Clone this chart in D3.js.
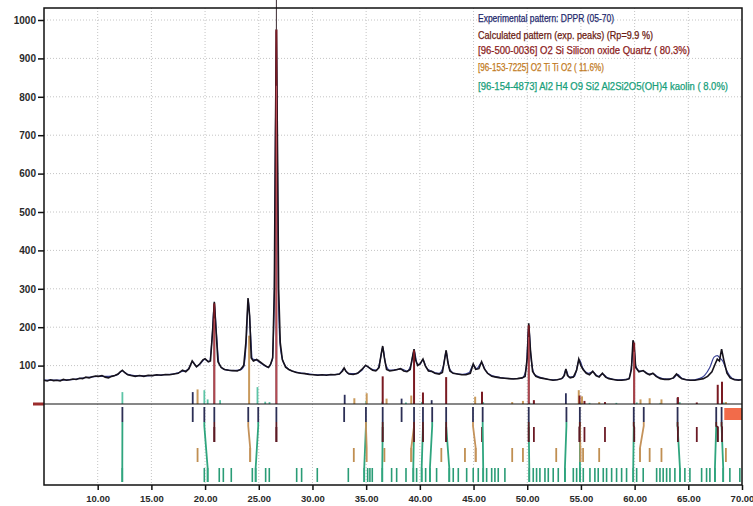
<!DOCTYPE html>
<html>
<head>
<meta charset="utf-8">
<script src="https://cdn.jsdelivr.net/npm/d3@7"></script>
<style>
  body { margin: 0; background: #fff; }
  svg { display: block; font-family: Arial, "Liberation Sans", sans-serif; }
</style>
</head>
<body>
<svg id="chart" width="753" height="506"></svg>
<script>
// measured pattern (2theta, counts) - noisy trace
const expPattern = [
  [5.0,62],[5.3,60],[5.6,63],[5.9,61],[6.2,62],[6.5,60],[6.8,64],[7.1,62],[7.4,63],[7.7,65],[8.0,64],[8.3,67],
  [8.6,66],[8.9,70],[9.2,68],[9.5,71],[9.8,73],[10.1,72],[10.4,74],[10.7,70],[11.0,68],[11.3,72],[11.6,74],
  [11.9,78],[12.1,84],[12.3,88],[12.5,82],[12.8,76],[13.1,74],[13.5,72],[13.9,74],[14.3,72],[14.7,75],[15.1,74],
  [15.5,76],[15.9,75],[16.3,77],[16.7,76],[17.1,78],[17.5,80],[17.9,88],[18.2,84],[18.5,92],[18.8,112],[19.0,104],
  [19.2,97],[19.5,104],[19.8,115],[20.0,118],[20.3,110],[20.5,112],[20.7,190],[20.86,266],[21.0,200],[21.2,110],
  [21.5,95],[21.8,90],[22.2,88],[22.6,87],[23.0,86],[23.3,90],[23.6,100],[23.8,160],[24.0,276],[24.15,230],
  [24.3,120],[24.5,112],[24.8,116],[25.1,110],[25.4,104],[25.7,98],[25.9,95],[26.1,104],[26.3,120],[26.45,300],
  [26.55,700],[26.64,975],[26.75,650],[26.85,300],[27.0,160],[27.2,115],[27.5,96],[27.8,90],[28.1,86],[28.5,82],
  [28.9,80],[29.3,79],[29.7,77],[30.1,76],[30.5,75],[30.9,76],[31.3,75],[31.7,77],[32.1,76],[32.5,78],[32.8,86],
  [32.95,94],[33.1,86],[33.4,78],[33.8,77],[34.2,80],[34.6,90],[34.95,101],[35.3,94],[35.6,88],[35.9,86],[36.2,95],
  [36.4,130],[36.54,151],[36.7,120],[36.9,90],[37.2,86],[37.6,88],[37.9,90],[38.2,92],[38.5,86],[38.8,84],[39.1,90],
  [39.3,120],[39.46,143],[39.6,115],[39.8,100],[40.0,104],[40.29,117],[40.5,100],[40.8,86],[41.1,85],[41.4,80],
  [41.8,78],[42.1,82],[42.3,115],[42.45,140],[42.6,110],[42.8,86],[43.1,80],[43.5,78],[43.9,76],[44.3,76],[44.7,80],
  [44.97,104],[45.2,90],[45.5,92],[45.75,110],[46.0,92],[46.3,80],[46.7,72],[47.1,70],[47.5,68],[47.9,67],[48.3,66],
  [48.7,65],[49.1,66],[49.5,68],[49.8,72],[50.0,120],[50.14,210],[50.3,140],[50.5,85],[50.8,72],[51.2,68],[51.6,66],
  [52.0,64],[52.4,62],[52.8,63],[53.2,66],[53.45,74],[53.6,91],[53.75,74],[54.0,68],[54.3,70],[54.6,88],[54.8,117],
  [55.0,100],[55.2,90],[55.5,80],[55.8,76],[56.1,85],[56.4,74],[56.7,70],[57.0,80],[57.3,70],[57.6,66],[58.0,64],
  [58.4,62],[58.8,62],[59.2,63],[59.5,66],[59.7,90],[59.85,166],[59.96,150],[60.1,95],[60.4,84],[60.8,87],[61.1,80],
  [61.4,76],[61.7,80],[62.0,72],[62.4,66],[62.8,64],[63.2,64],[63.6,68],[63.9,78],[64.1,72],[64.4,66],[64.8,63],
  [65.2,62],[65.6,62],[66.0,64],[66.4,66],[66.8,72],[67.2,84],[67.5,104],[67.7,117],[67.9,112],[68.1,143],[68.3,115],
  [68.6,80],[68.9,68],[69.3,63],[69.7,62],[70.0,64]
];

// calculated profile
const calcPattern = [
  [5,62],[6,62],[7,63],[8,65],[9,69],[10,72],[11,72],[11.8,76],[12.3,86],[12.8,77],[14,73],[15,74],[16,76],[17,78],
  [17.8,84],[18.4,90],[18.85,110],[19.2,98],[19.6,106],[19.95,116],[20.4,110],[20.65,170],[20.86,262],[21.05,190],
  [21.3,105],[21.8,90],[22.5,87],[23.2,88],[23.6,98],[23.85,170],[24.02,272],[24.2,200],[24.4,118],[24.8,114],
  [25.3,104],[25.9,96],[26.25,115],[26.45,280],[26.64,970],[26.82,300],[27.0,150],[27.3,108],[27.8,90],[28.5,83],
  [29.5,79],[30.5,76],[31.5,76],[32.5,78],[32.93,92],[33.3,80],[34,79],[34.6,88],[34.98,100],[35.4,92],[36,88],
  [36.35,120],[36.54,148],[36.8,105],[37.2,88],[38,90],[38.3,91],[38.8,86],[39.2,105],[39.46,140],[39.75,105],
  [40.0,103],[40.29,115],[40.6,95],[41.1,85],[41.8,80],[42.2,100],[42.45,137],[42.7,96],[43.2,80],[44,77],[44.6,82],
  [44.97,102],[45.3,92],[45.75,108],[46.1,88],[46.7,74],[47.5,69],[48.5,66],[49.5,67],[49.9,90],[50.14,205],
  [50.35,120],[50.7,76],[51.5,67],[52.5,63],[53.3,67],[53.6,89],[53.9,70],[54.4,72],[54.85,115],[55.2,92],[55.7,80],
  [56.1,84],[56.6,72],[57.0,78],[57.5,68],[58.5,63],[59.4,65],[59.75,110],[59.9,163],[60.1,100],[60.5,86],[60.85,86],
  [61.3,78],[61.7,79],[62.2,70],[63,65],[63.6,67],[64.0,77],[64.4,67],[65.2,62],[66,66],[66.5,74],[67.0,95],
  [67.4,122],[67.7,126],[68.0,118],[68.2,112],[68.5,92],[68.9,72],[69.3,64],[70,63]
];

// peak sticks above the zero line (2theta, height)
const expSticks = [[18.85,31],[33.0,24],[38.3,14],[41.1,10],[53.6,28],[64.0,16]];
const quartzSticks = [[20.86,262],[26.64,975],[36.54,72],[39.46,140],[40.29,30],[42.45,70],[45.79,32],[50.14,205],
  [50.62,10],[54.87,22],[55.33,8],[57.24,5],[59.96,160],[64.03,18],[65.79,4],[67.74,50],[68.14,58]];
const tioSticks = [[19.3,38],[24.1,178],[33.9,15],[35.05,28],[36.9,14],[39.2,22],[45.15,19],[48.6,5],[49.6,8],
  [54.8,36],[55.1,20],[56.7,5],[60.55,12],[61.4,15],[62.5,12],[68.5,5]];
const kaolinSticks = [[12.3,31],[19.93,36],[20.24,12],[21.4,10],[24.88,44],[25.6,6],[26.0,5],[35.0,8],[36.5,6],
  [38.7,4],[40.2,5],[45.9,5],[50.2,4],[54.9,5],[55.8,3],[58.3,3],[60.2,4],[62.4,3],[64.2,5],[68.3,4]];

// marker rows below the zero line
const expPeaks = [12.3,18.85,19.93,20.86,24.02,24.95,26.64,32.95,34.98,36.54,38.3,39.46,40.29,41.15,42.45,
  44.95,45.85,50.14,53.65,54.9,59.92,60.85,64.0,67.6,68.1];
const quartzPeaks = [20.86,26.64,36.54,39.46,40.29,42.45,45.79,50.14,50.62,54.87,55.33,57.24,59.96,64.03,65.79,67.74,68.14];
const tioPeaks = [19.3,24.2,33.85,36.7,39.2,42.0,44.2,45.2,48.6,49.6,52.7,54.95,55.2,56.7,60.5,61.4,62.5,68.5];
const kaolinPeaks = [12.29,19.93,20.24,21.32,21.7,22.44,24.4,24.71,25.64,25.98,28.53,28.99,30.45,33.34,34.82,35.14,
  35.35,35.57,36.5,37.37,37.84,38.71,39.39,39.7,40.17,40.54,40.94,41.56,42.74,43.11,43.58,44.36,44.97,45.44,45.9,
  46.22,46.69,46.99,47.3,47.92,50.19,50.56,50.87,51.18,51.65,51.96,52.42,52.89,53.51,54.29,54.6,54.91,55.22,55.84,
  56.3,56.61,57.08,57.39,57.86,58.32,58.79,59.25,59.87,60.19,60.8,62.05,62.36,62.66,62.98,63.29,63.75,64.22,64.68,
  65.15,66.24,66.7,67.01,67.48,68.25,68.87,69.8];

// matched peaks: [experimental peak, phase peak]
const quartzLinks = [[20.86,20.86],[26.64,26.64],[36.54,36.54],[39.46,39.46],[40.29,40.29],[42.45,42.45],
  [50.14,50.14],[54.9,54.87],[59.92,59.96],[64.0,64.03],[67.6,67.74],[68.1,68.14]];
const tioLinks = [[24.02,24.2],[44.95,45.2],[54.9,54.95],[60.85,60.5],[34.98,35.05],[39.46,39.2]];
const kaolinLinks = [[12.3,12.29],[19.93,20.24],[24.95,24.71],[34.98,34.82],[36.54,36.5],[39.46,39.39],
  [40.29,40.17],[41.15,40.94],[42.45,42.74],[45.85,45.9],[50.14,50.19],[53.65,53.51],[54.9,54.91],[59.92,59.87],
  [64.0,64.22],[67.6,67.48],[68.1,68.25]];

const yTicks = [100,200,300,400,500,600,700,800,900,1000];
const xTicks = [10,15,20,25,30,35,40,45,50,55,60,65,70];

const legendLines = [
  { text: 'Experimental pattern: DPPR (05-70)', color: '#1f2a6e', w: 136 },
  { text: 'Calculated pattern (exp. peaks) (Rp=9.9 %)', color: '#6b1b12', w: 175 },
  { text: '[96-500-0036] O2 Si Silicon oxide Quartz ( 80.3%)', color: '#8c1d1d', w: 212 },
  { text: '[96-153-7225] O2 Ti Ti O2 ( 11.6%)', color: '#c27a22', w: 126 },
  { text: '[96-154-4873] Al2 H4 O9 Si2 Al2Si2O5(OH)4 kaolin (  8.0%)', color: '#17a07a', w: 250 }
];

const svg = d3.select('#chart');
const plotL = 44, plotR = 742, plotT = 8, plotB = 485;
const x = d3.scaleLinear().domain([5, 70]).range([plotL, plotR]);
const y = d3.scaleLinear().domain([0, 1000]).range([404, 20]);
const y0 = y(0);

// grid
svg.append('g').selectAll('line').data(yTicks).join('line')
  .attr('x1', plotL).attr('x2', plotR)
  .attr('y1', d => y(d)).attr('y2', d => y(d))
  .attr('stroke', '#c4c4c4').attr('stroke-dasharray', '1,2');
svg.append('g').selectAll('line').data(xTicks.filter(d => d < 70)).join('line')
  .attr('x1', d => x(d)).attr('x2', d => x(d))
  .attr('y1', plotT).attr('y2', plotB)
  .attr('stroke', '#c4c4c4').attr('stroke-dasharray', '1,2');

// legend
svg.append('g').selectAll('text').data(legendLines).join('text')
  .attr('x', 478)
  .attr('y', (d, i) => [22, 38.5, 54, 70.5, 90][i])
  .attr('fill', d => d.color)
  .attr('stroke', d => d.color).attr('stroke-width', 0.25)
  .attr('font-size', 10)
  .attr('textLength', d => d.w)
  .attr('lengthAdjust', 'spacingAndGlyphs')
  .text(d => d.text);

// sticks above the zero line
function sticks(data, color, width) {
  svg.append('g').selectAll('line').data(data).join('line')
    .attr('x1', d => x(d[0])).attr('x2', d => x(d[0]))
    .attr('y1', y0).attr('y2', d => y(d[1]))
    .attr('stroke', color).attr('stroke-width', width);
}
sticks(kaolinSticks, '#5cc4a6', 1.8);
sticks(tioSticks, '#c99a5c', 2);
sticks(expSticks, '#2c2f5a', 1.8);

// profiles
svg.append('path').datum(calcPattern)
  .attr('d', d3.line().x(d => x(d[0])).y(d => y(d[1])).curve(d3.curveMonotoneX))
  .attr('fill', 'none').attr('stroke', '#3a4296').attr('stroke-width', 1.2);
svg.append('path').datum(expPattern)
  .attr('d', d3.line().x(d => x(d[0])).y(d => y(d[1])))
  .attr('fill', 'none').attr('stroke', '#16121c').attr('stroke-width', 1.6);

sticks(quartzSticks, '#7a1a22', 2);
// strong quartz sticks have a pink core
svg.append('g').selectAll('line').data(quartzSticks.filter(d => d[1] > 150)).join('line')
  .attr('x1', d => x(d[0])).attr('x2', d => x(d[0]))
  .attr('y1', y0).attr('y2', d => y(d[1] * 0.85))
  .attr('stroke', '#d0606a').attr('stroke-width', 0.8);

// cursor line at the strongest peak
svg.append('line')
  .attr('x1', x(26.64)).attr('x2', x(26.64))
  .attr('y1', 0).attr('y2', y(975))
  .attr('stroke', '#3a2a30').attr('stroke-width', 1);

// rows of peak markers
const rowA = [407, 422], rowB = [427, 442], rowC = [448, 462], rowD = [468, 482];

function links(data, row, color) {
  svg.append('g').selectAll('path').data(data).join('path')
    .attr('d', d => `M${x(d[0])},${rowA[1]}L${x(d[0])},${rowA[1] + 4}L${x(d[1])},${row[0]}L${x(d[1])},${row[1]}`)
    .attr('fill', 'none').attr('stroke', color).attr('stroke-width', 1.8);
}
function ticks(data, row, color, width) {
  svg.append('g').selectAll('line').data(data).join('line')
    .attr('x1', d => x(d)).attr('x2', d => x(d))
    .attr('y1', row[0]).attr('y2', row[1])
    .attr('stroke', color).attr('stroke-width', width);
}
ticks(kaolinPeaks, rowD, '#2a9c76', 1.6);
ticks(tioPeaks, rowC, '#c08f52', 1.8);
ticks(quartzPeaks, rowB, '#6b1a25', 1.8);
links(kaolinLinks, rowD, '#2fa57e');
links(tioLinks, rowC, '#c4925a');
links(quartzLinks, rowB, '#5a1a24');
ticks(expPeaks, rowA, '#2c2f55', 1.8);

// markers at the zero line and the right block
svg.append('line').attr('x1', 33).attr('x2', plotL).attr('y1', y0).attr('y2', y0)
  .attr('stroke', '#9b2c2c').attr('stroke-width', 3);
svg.append('rect').attr('x', x(68.35)).attr('y', 408).attr('width', plotR - x(68.35)).attr('height', 12)
  .attr('fill', '#f26b4a');

// zero line + frame
svg.append('line').attr('x1', plotL).attr('x2', plotR).attr('y1', y0).attr('y2', y0)
  .attr('stroke', '#111').attr('stroke-width', 1.2);
svg.append('rect').attr('x', plotL).attr('y', plotT).attr('width', plotR - plotL).attr('height', plotB - plotT)
  .attr('fill', 'none').attr('stroke', '#111').attr('stroke-width', 1.5);

// axes
const yAxis = svg.append('g').attr('transform', `translate(${plotL},0)`)
  .call(d3.axisLeft(y).tickValues(yTicks).tickSize(6).tickPadding(2).tickFormat(d3.format('d')));
const xAxis = svg.append('g').attr('transform', `translate(0,${plotB})`)
  .call(d3.axisBottom(x).tickValues(xTicks).tickSize(5).tickPadding(5).tickFormat(d3.format('.2f')));
[yAxis, xAxis].forEach(g => {
  g.select('.domain').remove();
  g.selectAll('.tick line').attr('stroke', '#111').attr('stroke-width', 1.5);
  g.selectAll('.tick text').attr('fill', '#2a2a2a').attr('font-weight', 'bold')
    .attr('font-family', 'Arial, "Liberation Sans", sans-serif');
});
yAxis.selectAll('.tick text').attr('font-size', 10);
xAxis.selectAll('.tick text').attr('font-size', 9.5);
</script>
</body>
</html>
